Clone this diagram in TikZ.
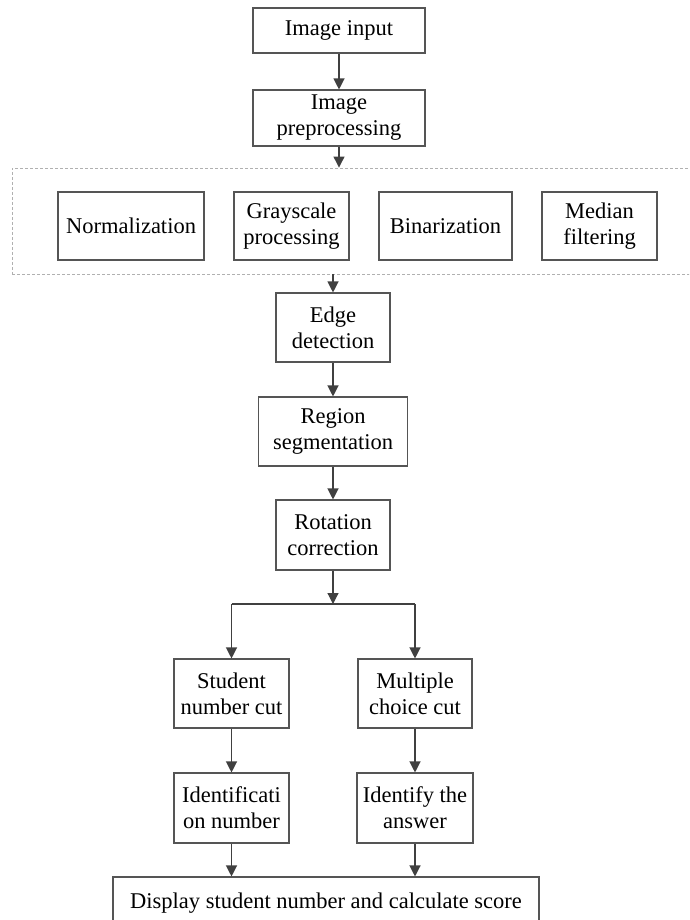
\documentclass[tikz,border=0pt]{standalone}
\usepackage{fontspec}
\setmainfont{Liberation Serif}
\usetikzlibrary{arrows.meta}
\definecolor{linec}{HTML}{404040}
\definecolor{boxc}{HTML}{555555}
\definecolor{dashc}{HTML}{B0B0B0}
\tikzset{
  box/.style={draw=boxc, line width=1.1pt, align=center, inner sep=0pt,
    font=\fontsize{22.5}{26}\selectfont, text=black},
  arr/.style={draw=linec, line width=1.2pt, -{Triangle[length=11pt,width=11pt]}},
  plain/.style={draw=linec, line width=1.2pt},
  grpbox/.style={draw=dashc, dash pattern=on 3pt off 2pt, line width=0.9pt, inner sep=0pt},
}
\begin{document}
\begin{tikzpicture}[x=1pt,y=-1pt]
\useasboundingbox (0,0) rectangle (689,920);
\clip (0,0) rectangle (689,920);
\node[grpbox, minimum width=700pt, minimum height=106pt] (grp) at (362,221) {};
\node[box, minimum width=172pt, minimum height=45pt] (in) at (339,30.5) {Image input};
\node[box, minimum width=172pt, minimum height=56pt] (pre) at (339,118) {Image\\preprocessing};
\node[box, minimum width=146pt, minimum height=68pt] (norm) at (131,226) {Normalization};
\node[box, minimum width=115pt, minimum height=68pt] (gray) at (291.5,226) {Grayscale\\processing};
\node[box, minimum width=133pt, minimum height=68pt] (bin) at (445.5,226) {Binarization};
\node[box, minimum width=115pt, minimum height=68pt] (med) at (599.5,226) {Median\\filtering};
\node[box, minimum width=114pt, minimum height=69pt] (edge) at (333,327.5) {Edge\\detection};
\node[box, minimum width=149pt, minimum height=69pt] (reg) at (333,431.5) {Region\\segmentation};
\node[box, minimum width=114pt, minimum height=70pt] (rot) at (333,535) {Rotation\\correction};
\node[box, minimum width=115pt, minimum height=69pt] (stu) at (231.5,693.5) {Student\\number cut};
\node[box, minimum width=114pt, minimum height=69pt] (mul) at (415,693.5) {Multiple\\choice cut};
\node[box, minimum width=115pt, minimum height=70pt] (ide) at (231.5,808) {Identificati\\on number};
\node[box, minimum width=116pt, minimum height=70pt] (ans) at (415,808) {Identify the\\answer};
\node[box, minimum width=426pt, minimum height=52pt] (dis) at (326,903) {Display student number and calculate score};
\coordinate (split) at (333,604);
\draw[arr] (in.south) -- (pre.north);
\draw[arr] (pre.south) -- (pre.south |- grp.north);
\draw[arr] (edge.north |- grp.south) -- (edge.north);
\draw[arr] (edge.south) -- (reg.north);
\draw[arr] (reg.south) -- (rot.north);
\draw[arr] (rot.south) -- (split);
\draw[plain] (stu.north |- split) -- (mul.north |- split);
\draw[arr] (stu.north |- split) -- (stu.north);
\draw[arr] (mul.north |- split) -- (mul.north);
\draw[arr] (stu.south) -- (ide.north);
\draw[arr] (mul.south) -- (ans.north);
\draw[arr] (ide.south) -- (ide.south |- dis.north);
\draw[arr] (ans.south) -- (ans.south |- dis.north);
\end{tikzpicture}
\end{document}
